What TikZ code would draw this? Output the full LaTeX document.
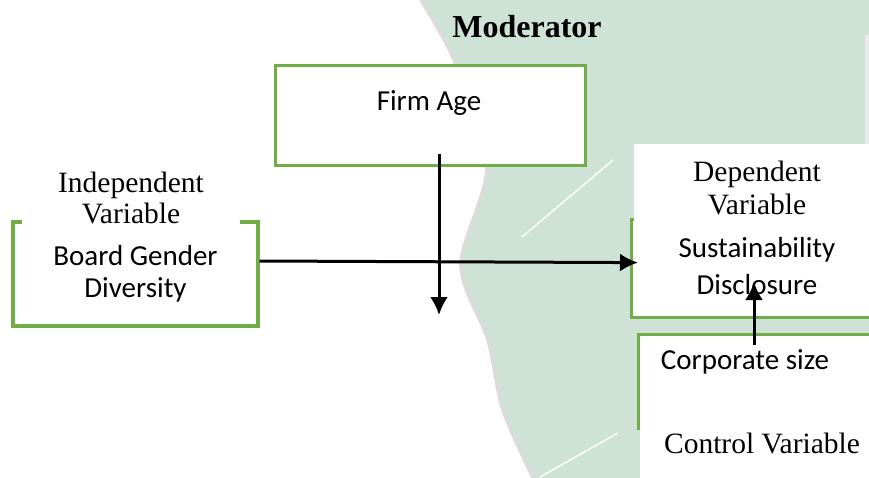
\documentclass[tikz,border=0pt]{standalone}
\usepackage{fontspec}
\setmainfont{Liberation Serif}
\newfontfamily\calib{Carlito}
\usetikzlibrary{arrows.meta}
\definecolor{boxgreen}{RGB}{112,173,71}
\definecolor{bggreen}{RGB}{206,227,214}

\tikzset{
	greenbox/.style={draw=boxgreen, line width=3.2pt, fill=white, inner sep=0pt},
	calibtext/.style={font=\calib\fontsize{29}{32}\selectfont, align=center, inner sep=0pt},
	timestext/.style={font=\fontsize{29.5}{31}\selectfont, align=center, inner sep=0pt},
	flow/.style={line width=3pt, -{Latex[length=18pt,width=18pt]}},
}

\begin{document}
\begin{tikzpicture}[x=1pt, y=-1pt]
			%%%%% START %%%%%
			
			\useasboundingbox (0,0) rectangle (869,477);
			\clip (0,0) rectangle (869,477);
			\fill[white] (0,0) rectangle (869,477);
			
			% green backdrop
			\fill[bggreen] plot[smooth] coordinates {(418,-5) (455,62) (487,165) (461,265) (488,340) (503,410) (535,482)} -- (875,482) -- (875,-5) -- cycle;
			\draw[black!14, line width=3.5pt] plot[smooth] coordinates {(418,-5) (455,62) (487,165) (461,265) (488,340) (503,410) (535,482)};
			\draw[black!8, line width=4pt] (867,35) -- (867,145);
			\draw[white, line width=1.5pt] (613,160) -- (522,237);
			\draw[white, line width=1.5pt] (618,433) -- (540,477);
			
			\node[font=\bfseries\fontsize{32}{34}\selectfont] (moderator) at (527,27) {Moderator};
			
			% moderator
			\node[greenbox, minimum width=310pt, minimum height=100pt, anchor=north west] (age) at (274,64) {};
			\node[calibtext] (agetext) at (429,103) {Firm Age};
			
			% independent
			\node[greenbox, calibtext, minimum width=245pt, minimum height=104pt] (indep) at (135.5,274) {Board Gender\\Diversity};
			\node[timestext, fill=white, minimum width=218pt, inner ysep=3pt] (indeplabel) at (131,198) {Independent\\Variable};
			
			% dependent
			\node[greenbox, calibtext, minimum width=254pt, minimum height=98pt, anchor=north west] (dep) at (630,218) {};
			\fill[white] (634,144) rectangle (880,224);
			\node[timestext] (deplabel) at (757,188) {Dependent\\[2pt]Variable};
			\node[calibtext, font=\calib\fontsize{29}{37}\selectfont] (deptext) at (757,266) {Sustainability\\Disclosure};
			
			% control
			\node[greenbox, minimum width=250pt, minimum height=94pt, anchor=north west] (corp) at (637,333) {};
			\node[calibtext] (corptext) at (745,362) {Corporate size};
			\fill[white] (640,425.5) rectangle (880,482);
			\node[timestext] (ctrllabel) at (762,443) {Control Variable};
			
			% arrows
			\coordinate (agefoot) at (439,154);
			\coordinate (modend) at (439,315);
			\coordinate (corpfoot) at (754,345);
			\coordinate (depmark) at (754,282);
			\draw[flow] ([yshift=13pt]indep.east) -- ([yshift=6pt,xshift=8pt]dep.west);
			\draw[flow] (agefoot) -- (modend);
			\draw[flow] (corpfoot) -- (depmark);
			
			%%%%% END %%%%%
\end{tikzpicture}
\end{document}
